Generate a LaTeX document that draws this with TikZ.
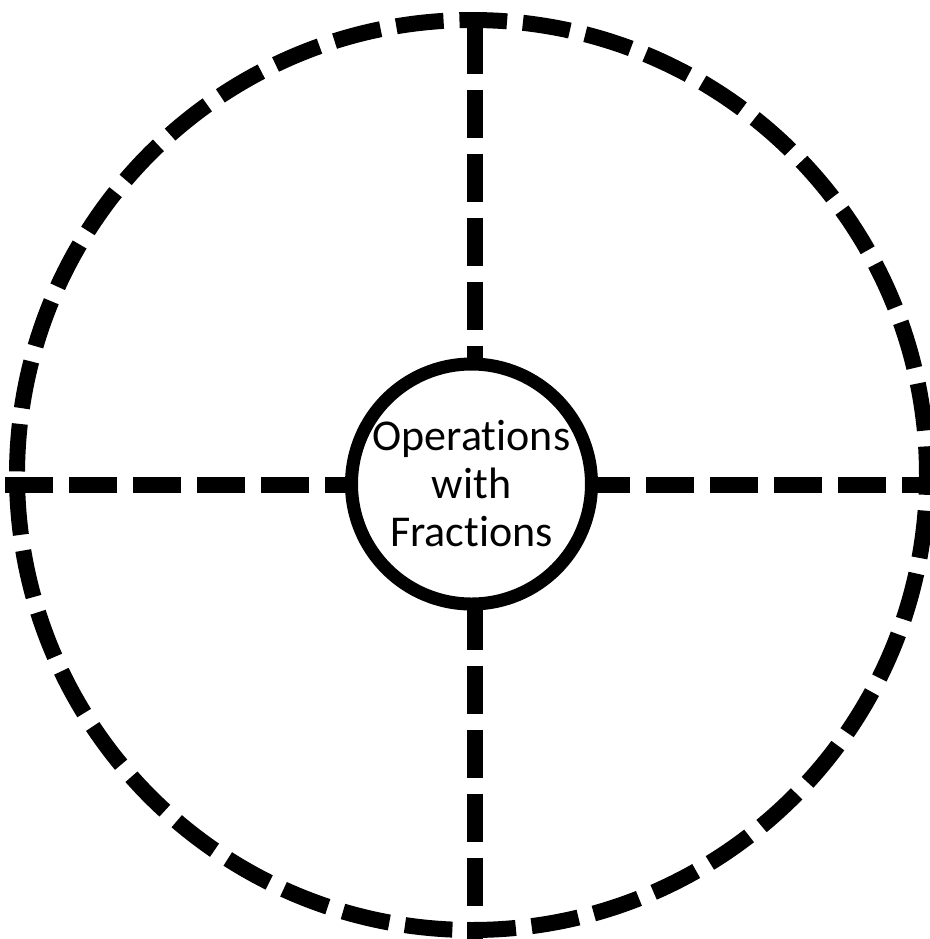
\documentclass[tikz,border=0pt]{standalone}
\usepackage{fontspec}
\setmainfont{Carlito}[Ligatures={NoCommon,NoDiscretionary}]
\usepackage{tikz}

\begin{document}
\begin{tikzpicture}[x=0.5pt, y=-0.5pt,
    spoke/.style={line width=8pt, dash pattern=on 24pt off 8pt},
    rim/.style={line width=8pt, dash pattern=on 23.82pt off 7.94pt, dash phase=13.9pt},
    hubcircle/.style={circle, draw, line width=6.5pt, fill=white, minimum size=120pt,
                      inner sep=0pt, align=center}]

    \useasboundingbox (0,0) rectangle (930,939);

    % ── Spoke end points ─────────────────────────────────────────────────────
    \coordinate (topend)   at (475,26);
    \coordinate (topin)    at (475,360);
    \coordinate (botin)    at (475,602);
    \coordinate (botend)   at (475,945);
    \coordinate (leftend)  at (5,485);
    \coordinate (leftin)   at (360,485);
    \coordinate (rightin)  at (582,485);
    \coordinate (rightend) at (945,485);

    % ── Dashed spokes ────────────────────────────────────────────────────────
    \draw[spoke] (topend) -- (topin);
    \draw[spoke] (botin) -- (botend);
    \draw[spoke] (leftend) -- (leftin);
    \draw[spoke] (rightin) -- (rightend);

    % ── Outer dashed rim ─────────────────────────────────────────────────────
    \draw[rim] (472,475) circle[radius=455];

    % ── Centre circle ────────────────────────────────────────────────────────
    \node[hubcircle, font=\fontsize{22pt}{24pt}\selectfont] (hub) at (471.5,484)
        {Operations\\with\\Fractions};

\end{tikzpicture}
\end{document}
